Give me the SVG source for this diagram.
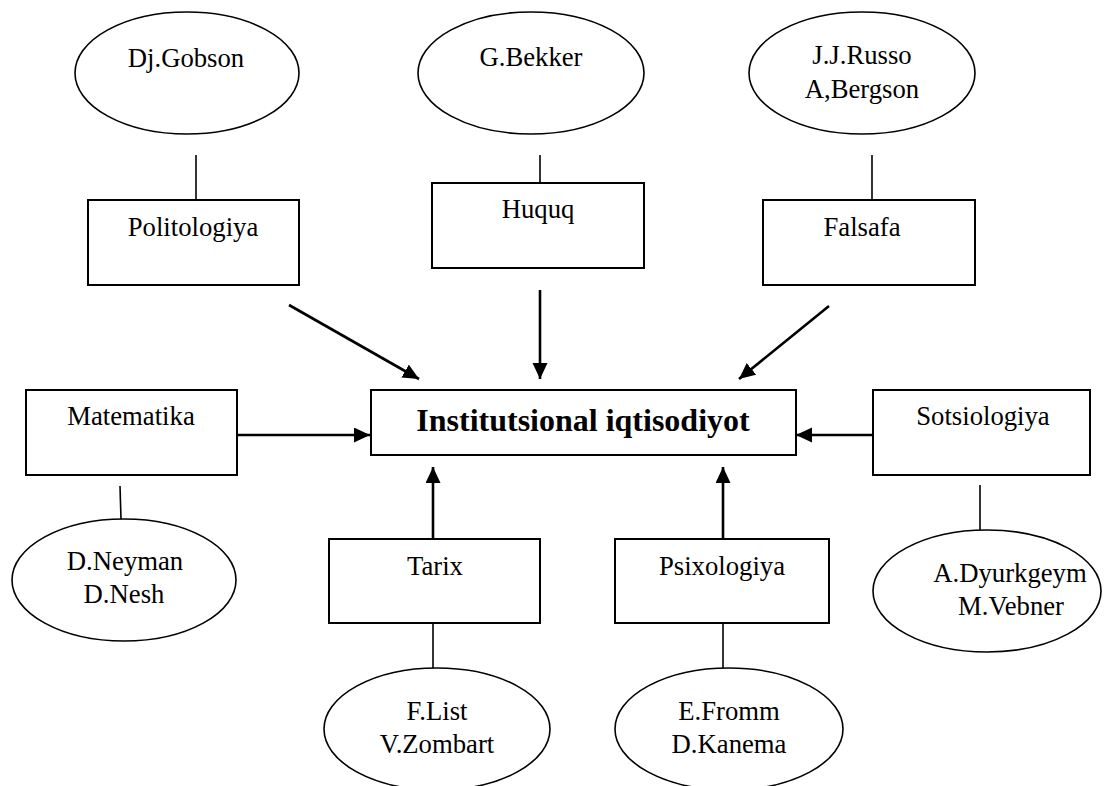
<svg xmlns="http://www.w3.org/2000/svg" width="1112" height="786" viewBox="0 0 1112 786">
<style>
.box{fill:#fff;stroke:#000;stroke-width:2}
.ell{fill:#fff;stroke:#000;stroke-width:1.6}
.ln{stroke:#000;stroke-width:1.6;fill:none}
.ar{stroke:#000;stroke-width:2.6;fill:none;marker-end:url(#ah)}
text{font-family:'Liberation Serif','Times New Roman',Times,'DejaVu Serif',serif;font-size:26.7px;fill:#000;text-anchor:middle}
.main{font-weight:bold;font-size:32px}
</style>
<defs>
<marker id="ah" markerUnits="userSpaceOnUse" markerWidth="17" markerHeight="16" refX="16" refY="7.5" orient="auto">
<path d="M0,0 L16,7.5 L0,15 z" fill="#000"/>
</marker>
</defs>
<g id="connectors">
<line class="ln" x1="196" y1="155" x2="196" y2="200"/>
<line class="ln" x1="540" y1="155" x2="540" y2="183"/>
<line class="ln" x1="872" y1="155" x2="872" y2="200"/>
<line class="ln" x1="120" y1="486" x2="121" y2="519"/>
<line class="ln" x1="980" y1="485" x2="980" y2="530"/>
<line class="ln" x1="433" y1="623" x2="433" y2="668"/>
<line class="ln" x1="723" y1="623" x2="723" y2="668"/>
<line class="ar" x1="289" y1="305" x2="419" y2="379"/>
<line class="ar" x1="540" y1="290" x2="540" y2="379"/>
<line class="ar" x1="829" y1="306" x2="739" y2="379"/>
<line class="ar" x1="237" y1="435" x2="370" y2="435"/>
<line class="ar" x1="873" y1="435" x2="796" y2="435"/>
<line class="ar" x1="433" y1="539" x2="433" y2="467"/>
<line class="ar" x1="723" y1="539" x2="723" y2="467"/>
</g>
<g id="gobson"><ellipse class="ell" cx="187" cy="73" rx="112" ry="61"/><text x="186" y="67">Dj.Gobson</text></g>
<g id="bekker"><ellipse class="ell" cx="531" cy="73" rx="113" ry="61"/><text x="531" y="66">G.Bekker</text></g>
<g id="russo"><ellipse class="ell" cx="862" cy="73" rx="113" ry="61"/><text x="862" y="64">J.J.Russo</text><text x="862" y="98">A,Bergson</text></g>
<g id="politologiya"><rect class="box" x="88" y="200" width="211" height="85"/><text x="193" y="236">Politologiya</text></g>
<g id="huquq"><rect class="box" x="432" y="183" width="212" height="85"/><text x="538" y="218">Huquq</text></g>
<g id="falsafa"><rect class="box" x="763" y="200" width="212" height="85"/><text x="862" y="236">Falsafa</text></g>
<g id="main"><rect class="box" x="371" y="390" width="425" height="65"/><text class="main" x="583" y="431">Institutsional iqtisodiyot</text></g>
<g id="matematika"><rect class="box" x="26" y="390" width="211" height="85"/><text x="131" y="425">Matematika</text></g>
<g id="sotsiologiya"><rect class="box" x="873" y="390" width="217" height="85"/><text x="983" y="425">Sotsiologiya</text></g>
<g id="neyman"><ellipse class="ell" cx="124" cy="580" rx="112" ry="61"/><text x="125" y="570">D.Neyman</text><text x="124" y="603">D.Nesh</text></g>
<g id="dyurkgeym"><ellipse class="ell" cx="987" cy="591" rx="114" ry="61"/><text x="1010" y="582">A.Dyurkgeym</text><text x="1011" y="615">M.Vebner</text></g>
<g id="tarix"><rect class="box" x="329" y="539" width="211" height="84"/><text x="435" y="575">Tarix</text></g>
<g id="psixologiya"><rect class="box" x="615" y="539" width="214" height="84"/><text x="722" y="575">Psixologiya</text></g>
<g id="list"><ellipse class="ell" cx="437" cy="729" rx="113" ry="61"/><text x="437" y="720">F.List</text><text x="437" y="753">V.Zombart</text></g>
<g id="fromm"><ellipse class="ell" cx="729" cy="729" rx="114" ry="61"/><text x="729" y="720">E.Fromm</text><text x="729" y="753">D.Kanema</text></g>
</svg>
